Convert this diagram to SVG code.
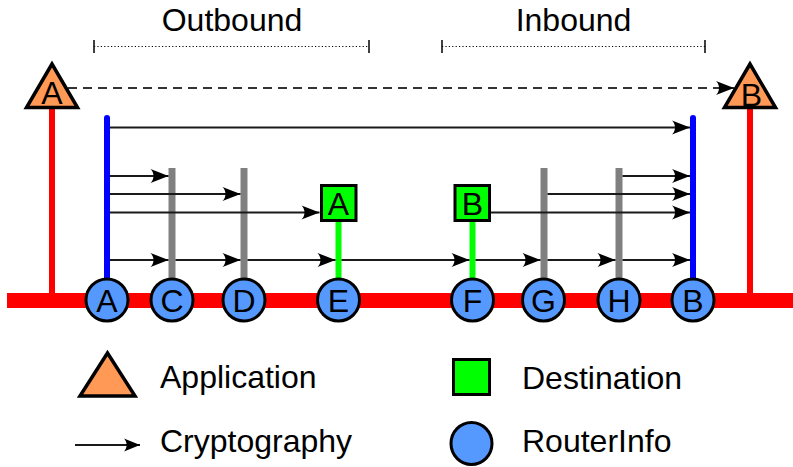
<svg xmlns="http://www.w3.org/2000/svg" width="793" height="467" viewBox="0 0 793 467">
<style>
text{font-family:"Liberation Sans",Arial,sans-serif;fill:#000}
.lbl{font-size:32px}
.nl{font-size:32px;text-anchor:middle}
.app{fill:#ff9955;stroke:#000;stroke-width:3.5;stroke-linejoin:miter}
.dest{fill:#00ff00;stroke:#000;stroke-width:3}
.ri{fill:#5599ff;stroke:#000;stroke-width:3}
.red{stroke:#ff0000;stroke-width:6;fill:none}
.blue{stroke:#0000ff;stroke-width:6;stroke-linecap:round;fill:none}
.gray{stroke:#808080;stroke-width:7;fill:none}
.green{stroke:#00ff00;stroke-width:6;fill:none}
.arr{stroke:#1a1a1a;stroke-width:2;fill:none;marker-end:url(#ah)}
.dash{stroke:#333;stroke-width:2;fill:none;stroke-dasharray:9,6;marker-end:url(#ah)}
.dot{stroke:#000;stroke-width:1.2;fill:none;stroke-dasharray:1.2,2.2}
.tick{stroke:#000;stroke-width:1.5}
</style>
<defs>
<marker id="ah" markerUnits="userSpaceOnUse" markerWidth="20" markerHeight="16" viewBox="-19 -8 20 16" refX="0" refY="0" orient="auto" overflow="visible">
<path d="M0,0 L-18,-7 C-14,-3 -14,3 -18,7 Z" fill="#000"/>
</marker>
<marker id="ahs" markerUnits="userSpaceOnUse" markerWidth="18" markerHeight="14" viewBox="-17 -7 18 14" refX="0" refY="0" orient="auto" overflow="visible">
<path d="M0,0 L-16,-6.5 C-12.5,-3 -12.5,3 -16,6.5 Z" fill="#000"/>
</marker>
</defs>

<g id="brackets">
<text class="lbl" x="232" y="31" text-anchor="middle">Outbound</text>
<line class="dot" x1="94" y1="46.5" x2="369" y2="46.5"/>
<line class="tick" x1="94" y1="40" x2="94" y2="53"/>
<line class="tick" x1="369" y1="40" x2="369" y2="53"/>
<text class="lbl" x="573.5" y="31" text-anchor="middle">Inbound</text>
<line class="dot" x1="442" y1="46.5" x2="705" y2="46.5"/>
<line class="tick" x1="442" y1="40" x2="442" y2="53"/>
<line class="tick" x1="705" y1="40" x2="705" y2="53"/>
</g>

<g id="bus">
<rect x="7" y="293" width="786" height="15" fill="#ff0000"/>
<line class="red" x1="52" y1="106" x2="52" y2="294"/>
<line class="red" x1="750" y1="106" x2="750" y2="294"/>
</g>

<g id="tunnel-lines">
<line class="blue" x1="107" y1="118" x2="107" y2="290"/>
<line class="blue" x1="693" y1="118" x2="693" y2="290"/>
<line class="gray" x1="172" y1="168" x2="172" y2="290"/>
<line class="gray" x1="244" y1="168" x2="244" y2="290"/>
<line class="gray" x1="544" y1="168" x2="544" y2="290"/>
<line class="gray" x1="619" y1="168" x2="619" y2="290"/>
<line class="green" x1="338.5" y1="220" x2="338.5" y2="290"/>
<line class="green" x1="472.5" y1="220" x2="472.5" y2="290"/>
</g>

<g id="connectors">
<line class="dash" x1="68" y1="88" x2="734" y2="88"/>
<line class="arr" x1="110" y1="127.5" x2="690" y2="127.5"/>
<line class="arr" x1="110" y1="176" x2="168.5" y2="176"/>
<line class="arr" x1="110" y1="194" x2="240.5" y2="194"/>
<line class="arr" x1="110" y1="212.5" x2="319.5" y2="212.5"/>
<line class="arr" x1="110" y1="260" x2="168.5" y2="260"/>
<line class="arr" x1="175.5" y1="260" x2="240.5" y2="260"/>
<line class="arr" x1="247.5" y1="260" x2="335.5" y2="260"/>
<line class="arr" x1="341.5" y1="260" x2="469.5" y2="260"/>
<line class="arr" x1="475.5" y1="260" x2="540.5" y2="260"/>
<line class="arr" x1="547.5" y1="260" x2="615.5" y2="260"/>
<line class="arr" x1="622.5" y1="260" x2="690" y2="260"/>
<line class="arr" x1="622.5" y1="176" x2="690" y2="176"/>
<line class="arr" x1="547.5" y1="194" x2="690" y2="194"/>
<line class="arr" x1="491" y1="212.5" x2="690" y2="212.5"/>
</g>

<g id="app-A">
<polygon class="app" points="52,64 26.5,107.5 77.5,107.5"/>
<text class="nl" x="52" y="103.5">A</text>
</g>
<g id="app-B">
<polygon class="app" points="750,64 724.5,107.5 775.5,107.5"/>
<text class="nl" x="751.5" y="106">B</text>
</g>

<g id="dest-A">
<rect class="dest" x="321.5" y="185.5" width="34.5" height="35"/>
<text class="nl" x="338.5" y="215">A</text>
</g>
<g id="dest-B">
<rect class="dest" x="455" y="185.5" width="34.5" height="35"/>
<text class="nl" x="472.5" y="215">B</text>
</g>

<g id="router-A"><circle class="ri" cx="107" cy="300" r="21"/><text class="nl" x="107" y="311.5">A</text></g>
<g id="router-C"><circle class="ri" cx="172" cy="300" r="21"/><text class="nl" x="172" y="311.5">C</text></g>
<g id="router-D"><circle class="ri" cx="244" cy="300" r="21"/><text class="nl" x="244" y="311.5">D</text></g>
<g id="router-E"><circle class="ri" cx="338.5" cy="300" r="21"/><text class="nl" x="338.5" y="311.5">E</text></g>
<g id="router-F"><circle class="ri" cx="472.5" cy="300" r="21"/><text class="nl" x="472.5" y="311.5">F</text></g>
<g id="router-G"><circle class="ri" cx="543.5" cy="300" r="21"/><text class="nl" x="543.5" y="311.5">G</text></g>
<g id="router-H"><circle class="ri" cx="619" cy="300" r="21"/><text class="nl" x="619" y="311.5">H</text></g>
<g id="router-B"><circle class="ri" cx="693" cy="300" r="21"/><text class="nl" x="693" y="311.5">B</text></g>

<g id="legend">
<g id="legend-application">
<polygon class="app" points="107.5,353 80,396 135,396"/>
<text class="lbl" x="160" y="388">Application</text>
</g>
<g id="legend-cryptography">
<line x1="75" y1="445" x2="140" y2="445" stroke="#1a1a1a" stroke-width="2" marker-end="url(#ahs)"/>
<text class="lbl" x="160" y="452">Cryptography</text>
</g>
<g id="legend-destination">
<rect class="dest" x="453.5" y="359.5" width="36" height="35"/>
<text class="lbl" x="522" y="389">Destination</text>
</g>
<g id="legend-routerinfo">
<ellipse class="ri" cx="471.5" cy="443.5" rx="20.5" ry="21"/>
<text class="lbl" x="522" y="452">RouterInfo</text>
</g>
</g>
</svg>
